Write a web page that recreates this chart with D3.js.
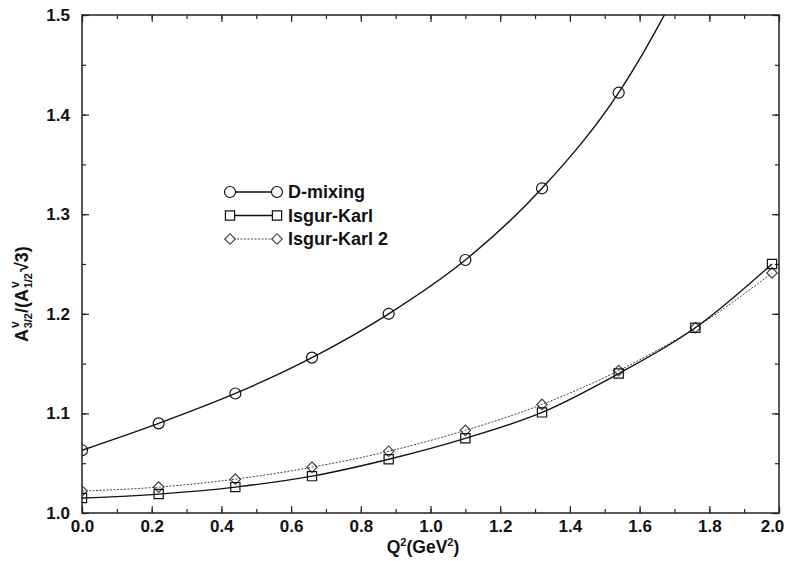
<html>
<head>
<script src="https://d3js.org/d3.v7.min.js"></script>
<style>
  body { margin: 0; background: #fff; }
  text { font-family: "Liberation Sans", Arial, sans-serif; font-weight: bold; fill: #111; }
</style>
</head>
<body>
<script>
// Q^2 values where the points sit
var q2 = [0, 0.22, 0.44, 0.66, 0.88, 1.10, 1.32, 1.54, 1.76, 1.98];
var dMixing = [1.063, 1.090, 1.120, 1.156, 1.200, 1.254, 1.326, 1.422, 1.560, 1.730];
var isgurKarl = [1.015, 1.019, 1.026, 1.037, 1.054, 1.075, 1.101, 1.140, 1.186, 1.250];
var isgurKarl2 = [1.022, 1.026, 1.034, 1.046, 1.062, 1.083, 1.109, 1.143, 1.186, 1.241];
var seriesNames = ["D-mixing", "Isgur-Karl", "Isgur-Karl 2"];
var xTicks = [0, 0.2, 0.4, 0.6, 0.8, 1.0, 1.2, 1.4, 1.6, 1.8, 2.0];
var yTicks = [1.0, 1.1, 1.2, 1.3, 1.4, 1.5];

var width = 788, height = 561;
var margin = {top: 15, right: 9, bottom: 48, left: 82};

var svg = d3.select("body").append("svg")
    .attr("width", width)
    .attr("height", height);

var xScale = d3.scaleLinear().domain([0, 2]).range([margin.left, width - margin.right]);
var yScale = d3.scaleLinear().domain([1.0, 1.5]).range([height - margin.bottom, margin.top]);

svg.append("clipPath").attr("id", "plotclip")
    .append("rect")
    .attr("x", margin.left).attr("y", margin.top)
    .attr("width", xScale(2) - xScale(0))
    .attr("height", yScale(1.0) - yScale(1.5));

// axes, ticks inward on all four sides
var minorX = d3.range(0, 2.001, 0.1);
var minorY = d3.range(1.0, 1.5001, 0.05);

var bottomAxis = d3.axisBottom(xScale).tickValues(xTicks).tickSize(-7)
    .tickFormat(d3.format(".1f")).tickPadding(7);
var leftAxis = d3.axisLeft(yScale).tickValues(yTicks).tickSize(-7)
    .tickFormat(d3.format(".1f")).tickPadding(12);

function styleAxis(g) {
  g.select(".domain").remove();
  g.selectAll("line").attr("stroke", "#222").attr("stroke-width", 1.2);
  g.selectAll("text").style("font-size", "17px").attr("fill", "#111");
}

var xAxisG = svg.append("g").attr("transform", "translate(0," + yScale(1.0) + ")")
    .call(bottomAxis).call(styleAxis);
// last label sits against the page edge
xAxisG.selectAll(".tick text").filter(function(d) { return d === 2; }).attr("dx", -7);

svg.append("g").attr("transform", "translate(" + xScale(0) + ",0)")
    .call(leftAxis).call(styleAxis);
svg.append("g").attr("transform", "translate(0," + yScale(1.5) + ")")
    .call(d3.axisTop(xScale).tickValues(xTicks).tickSize(-7).tickFormat(""))
    .call(styleAxis);
svg.append("g").attr("transform", "translate(" + xScale(2) + ",0)")
    .call(d3.axisRight(yScale).tickValues(yTicks).tickSize(-7).tickFormat(""))
    .call(styleAxis);

// minor ticks
svg.append("g").attr("transform", "translate(0," + yScale(1.0) + ")")
    .call(d3.axisBottom(xScale).tickValues(minorX).tickSize(-4).tickFormat("")).call(styleAxis);
svg.append("g").attr("transform", "translate(0," + yScale(1.5) + ")")
    .call(d3.axisTop(xScale).tickValues(minorX).tickSize(-4).tickFormat("")).call(styleAxis);
svg.append("g").attr("transform", "translate(" + xScale(0) + ",0)")
    .call(d3.axisLeft(yScale).tickValues(minorY).tickSize(-4).tickFormat("")).call(styleAxis);
svg.append("g").attr("transform", "translate(" + xScale(2) + ",0)")
    .call(d3.axisRight(yScale).tickValues(minorY).tickSize(-4).tickFormat("")).call(styleAxis);

// frame
svg.append("rect")
    .attr("x", xScale(0)).attr("y", yScale(1.5))
    .attr("width", xScale(2) - xScale(0))
    .attr("height", yScale(1.0) - yScale(1.5))
    .attr("fill", "none").attr("stroke", "#222").attr("stroke-width", 1.5);

// series
var series = [
  {name: seriesNames[0], values: dMixing, marker: "circle", dash: null, color: "#111", width: 1.4},
  {name: seriesNames[1], values: isgurKarl, marker: "square", dash: null, color: "#111", width: 1.4},
  {name: seriesNames[2], values: isgurKarl2, marker: "diamond", dash: "2,1.5", color: "#444", width: 1}
];

var symbolFor = {
  circle: d3.symbol().type(d3.symbolCircle).size(95),
  square: d3.symbol().type(d3.symbolSquare).size(85),
  diamond: d3.symbol().type(d3.symbolSquare).size(55)
};
var rotFor = {circle: 0, square: 0, diamond: 45};

var lineGenerator = d3.line()
    .x(function(d) { return xScale(d[0]); })
    .y(function(d) { return yScale(d[1]); })
    .curve(d3.curveMonotoneX);

var plot = svg.append("g").attr("clip-path", "url(#plotclip)");

series.slice().reverse().forEach(function(s) {
  var pts = q2.map(function(q, i) { return [q, s.values[i]]; });
  plot.append("path")
      .datum(pts)
      .attr("d", lineGenerator)
      .attr("fill", "none")
      .attr("stroke", s.color)
      .attr("stroke-width", s.width)
      .attr("stroke-dasharray", s.dash);
  plot.selectAll(null)
      .data(pts)
      .enter()
      .append("path")
      .attr("d", symbolFor[s.marker])
      .attr("transform", function(d) {
        return "translate(" + xScale(d[0]) + "," + yScale(d[1]) + ") rotate(" + rotFor[s.marker] + ")";
      })
      .attr("fill", "none")
      .attr("stroke", s.color)
      .attr("stroke-width", 1.2);
});

// legend
var legend = svg.append("g").attr("transform", "translate(230,192)");
series.forEach(function(s, i) {
  var row = legend.append("g").attr("transform", "translate(0," + (i * 23.5) + ")");
  row.append("line")
      .attr("x1", 0).attr("x2", 47).attr("y1", 0).attr("y2", 0)
      .attr("stroke", s.color).attr("stroke-width", s.width)
      .attr("stroke-dasharray", s.dash);
  [0, 47].forEach(function(x) {
    row.append("path")
        .attr("d", symbolFor[s.marker])
        .attr("transform", "translate(" + x + ",0) rotate(" + rotFor[s.marker] + ")")
        .attr("fill", "#fff").attr("stroke", s.color).attr("stroke-width", 1.2);
  });
  row.append("text")
      .attr("x", 58).attr("y", 6)
      .style("font-size", "18px")
      .text(s.name);
});

// x label
var xl = svg.append("text")
    .attr("x", 423).attr("y", 553)
    .attr("text-anchor", "middle")
    .style("font-size", "17.5px");
xl.append("tspan").text("Q");
xl.append("tspan").text("2").style("font-size", "11px").attr("dy", -7);
xl.append("tspan").text("(GeV").attr("dy", 7);
xl.append("tspan").text("2").style("font-size", "11px").attr("dy", -7);
xl.append("tspan").text(")").attr("dy", 7);

// y label
var yl = svg.append("text")
    .attr("transform", "translate(28,342) rotate(-90)")
    .style("font-size", "18px");
yl.append("tspan").text("A");
yl.append("tspan").text("v").style("font-size", "12px").attr("dy", -9).attr("dx", 1);
yl.append("tspan").text("3/2").style("font-size", "11px").attr("dy", 13).attr("dx", -7);
yl.append("tspan").text("/(A").attr("dy", -4);
yl.append("tspan").text("v").style("font-size", "12px").attr("dy", -9).attr("dx", 1);
yl.append("tspan").text("1/2").style("font-size", "11px").attr("dy", 13).attr("dx", -7);
yl.append("tspan").text("\u221A3)").attr("dy", -4).attr("dx", 1);
</script>
</body>
</html>
